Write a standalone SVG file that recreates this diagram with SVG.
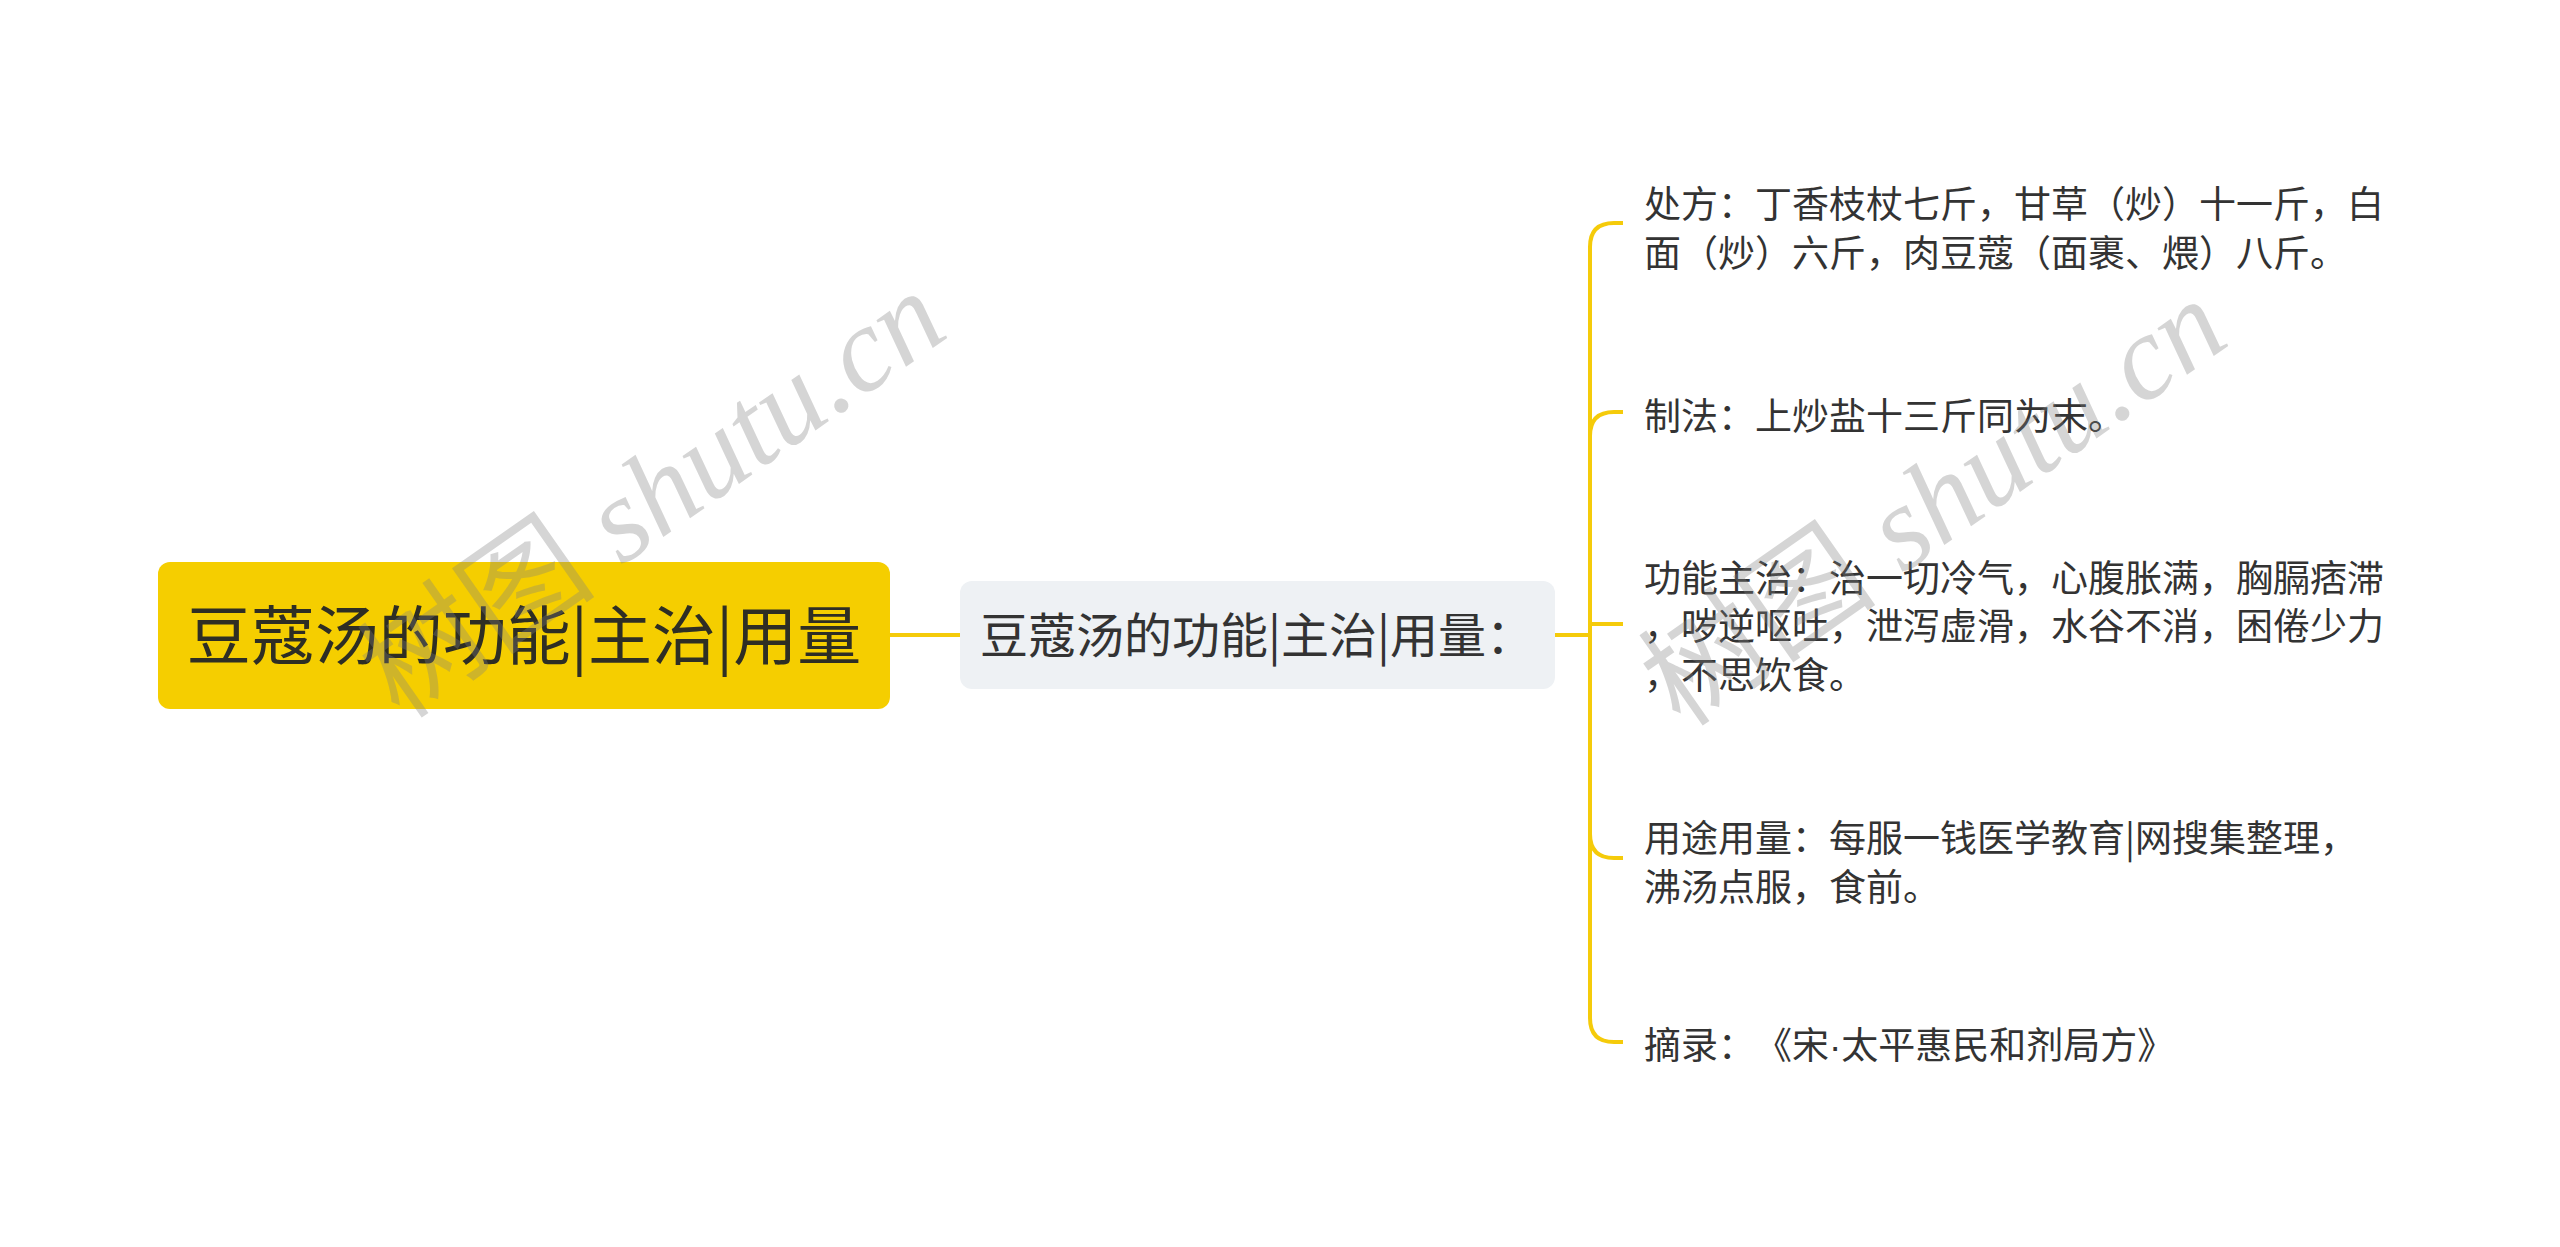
<svg xmlns="http://www.w3.org/2000/svg" width="2560" height="1247" viewBox="0 0 2560 1247">
<style>
.t{font-family:"Noto Sans CJK SC","Noto Sans",sans-serif;fill:#333333;text-spacing-trim:space-all}
.root{font-size:64px;fill:#2e2e24}
.mid{font-size:48px}
.leaf{font-size:37px}
.dot{font-family:"Liberation Sans",sans-serif}
.ln{fill:none;stroke:#F5CB0A;stroke-width:4;stroke-linecap:butt}
.wm{font-family:"Liberation Serif","Noto Sans CJK SC",serif;font-size:120px;fill:#808080;fill-opacity:0.33}
.wi{font-style:italic}
</style>
<rect width="2560" height="1247" fill="#ffffff"/>
<g id="connectors">
<path class="ln" d="M890,635 H960"/>
<path class="ln" d="M1555,635 H1590"/>
<path class="ln" d="M1590,635 V247 Q1590,223 1614,223 H1623"/>
<path class="ln" d="M1590,635 V436 Q1590,412 1614,412 H1623"/>
<path class="ln" d="M1590,635 V624 H1623"/>
<path class="ln" d="M1590,635 V834 Q1590,858 1614,858 H1623"/>
<path class="ln" d="M1590,635 V1018 Q1590,1042 1614,1042 H1623"/>
</g>
<g id="root">
<rect x="158" y="562" width="732" height="147" rx="12" fill="#F5CE00"/>
<text class="t root" x="524" y="659" text-anchor="middle">豆蔻汤的功能|主治|用量</text>
</g>
<g id="mid">
<rect x="960" y="581" width="595" height="108" rx="12" fill="#EEF1F4"/>
<text class="t mid" x="1257" y="653" text-anchor="middle">豆蔻汤的功能|主治|用量：</text>
</g>
<g id="leaf1">
<text class="t leaf" x="1644" y="218">处方：丁香枝杖七斤，甘草（炒）十一斤，白</text>
<text class="t leaf" x="1644" y="267">面（炒）六斤，肉豆蔻（面裹、煨）八斤。</text>
</g>
<g id="leaf2">
<text class="t leaf" x="1644" y="430">制法：上炒盐十三斤同为末。</text>
</g>
<g id="leaf3">
<text class="t leaf" x="1644" y="592">功能主治：治一切冷气，心腹胀满，胸膈痞滞</text>
<text class="t leaf" x="1644" y="640">，哕逆呕吐，泄泻虚滑，水谷不消，困倦少力</text>
<text class="t leaf" x="1644" y="689">，不思饮食。</text>
</g>
<g id="leaf4">
<text class="t leaf" x="1644" y="852">用途用量：每服一钱医学教育|网搜集整理，</text>
<text class="t leaf" x="1644" y="901">沸汤点服，食前。</text>
</g>
<g id="leaf5">
<text class="t leaf" x="1644" y="1059">摘录：《宋<tspan class="dot">·</tspan>太平惠民和剂局方》</text>
</g>
<g id="watermarks">
<text class="wm" x="676" y="528" text-anchor="middle" transform="rotate(-35 676 528)">树图 <tspan class="wi">shutu.cn</tspan></text>
<text class="wm" x="1957" y="536" text-anchor="middle" transform="rotate(-35 1957 536)">树图 <tspan class="wi">shutu.cn</tspan></text>
</g>
</svg>
